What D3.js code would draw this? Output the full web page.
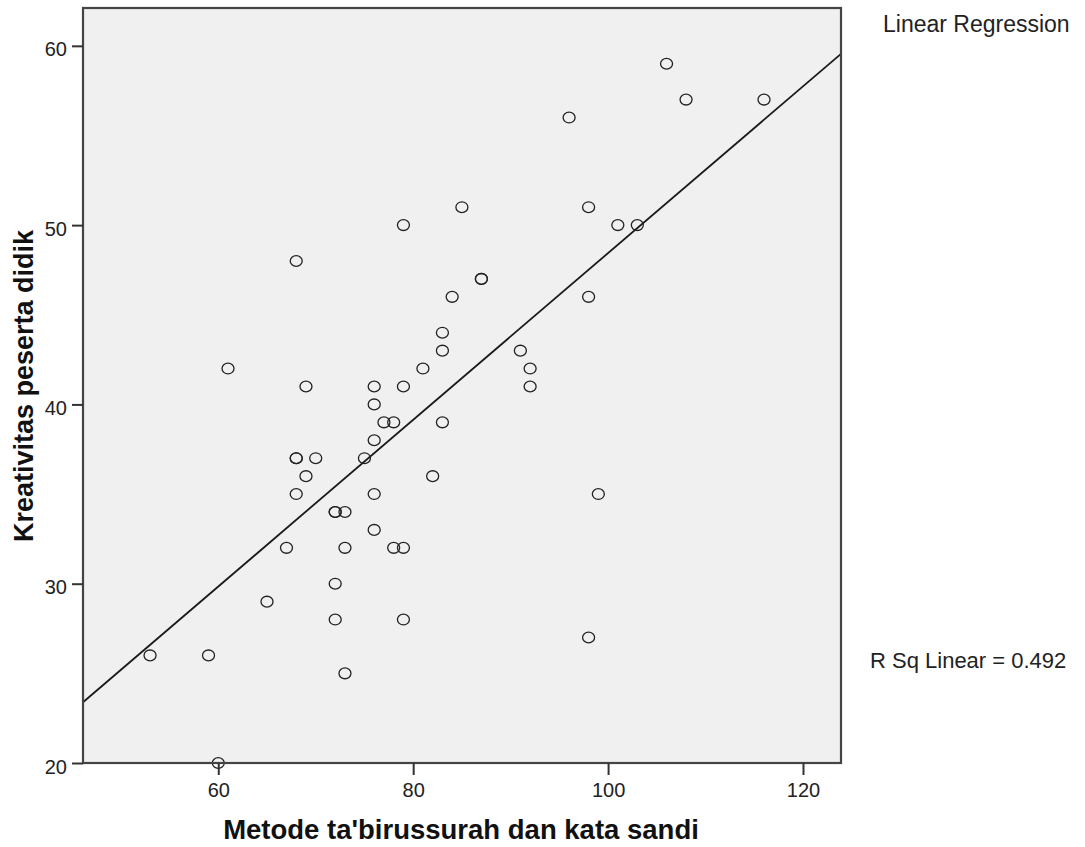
<!DOCTYPE html>
<html>
<head>
<meta charset="utf-8">
<script src="https://cdn.jsdelivr.net/npm/d3@7"></script>
<style>
  html, body { margin: 0; padding: 0; background: #fff; }
  svg { display: block; }
</style>
</head>
<body>
<svg id="chart" width="1085" height="847"></svg>
<script>
// Data
const metode = [53, 59, 60, 61, 65, 67, 68, 68, 68, 68, 69, 69, 70, 72, 72, 73, 72, 72, 73, 73,
  75, 76, 76, 76, 76, 76, 77, 78, 78, 79, 79, 79, 79, 81, 82, 83, 83, 83, 84, 85,
  87, 87, 91, 92, 92, 96, 98, 98, 98, 99, 101, 103, 106, 108, 116];
const kreativitas = [26, 26, 20, 42, 29, 32, 48, 37, 37, 35, 41, 36, 37, 34, 34, 34, 30, 28, 32, 25,
  37, 41, 40, 38, 35, 33, 39, 39, 32, 32, 28, 41, 50, 42, 36, 44, 43, 39, 46, 51,
  47, 47, 43, 42, 41, 56, 51, 46, 27, 35, 50, 50, 59, 57, 57];
const xTicks = [60, 80, 100, 120];
const yTicks = [20, 30, 40, 50, 60];
const xTitle = "Metode ta'birussurah dan kata sandi";
const yTitle = "Kreativitas peserta didik";
const legendTitle = "Linear Regression";
const rSqLabel = "R Sq Linear = 0.492";

(function () {
const svg = d3.select("#chart");
const pL = 83, pR = 841, pT = 8, pB = 763;
const sans = "Liberation Sans, Arial, Helvetica, sans-serif";

const x = d3.scaleLinear().domain([46.12, 123.9]).range([pL, pR]);
const y = d3.scaleLinear().domain([20, 62.11]).range([pB, pT]);

// plot background
svg.append("rect").attr("x", pL).attr("y", pT)
  .attr("width", pR - pL).attr("height", pB - pT)
  .attr("fill", "#f0f0f0");

// regression line (least squares from data)
const mx = d3.mean(metode), my = d3.mean(kreativitas);
let sxy = 0, sxx = 0;
metode.forEach((v, i) => { sxy += (v - mx) * (kreativitas[i] - my); sxx += (v - mx) * (v - mx); });
const slope = sxy / sxx, intercept = my - slope * mx;
const [x0, x1] = x.domain();
svg.append("clipPath").attr("id", "clip").append("rect")
  .attr("x", pL).attr("y", pT).attr("width", pR - pL).attr("height", pB - pT);
svg.append("line")
  .attr("clip-path", "url(#clip)")
  .attr("x1", x(x0)).attr("y1", y(intercept + slope * x0))
  .attr("x2", x(x1)).attr("y2", y(intercept + slope * x1))
  .attr("stroke", "#1a1a1a").attr("stroke-width", 1.8);

// points
const pts = metode.map((v, i) => ({ x: v, y: kreativitas[i] }));
svg.append("g").selectAll("ellipse").data(pts).join("ellipse")
  .attr("cx", d => x(d.x)).attr("cy", d => y(d.y))
  .attr("rx", 6).attr("ry", 5.4)
  .attr("fill", "none").attr("stroke", "#222").attr("stroke-width", 1.3);

// frame
svg.append("rect").attr("x", pL).attr("y", pT)
  .attr("width", pR - pL).attr("height", pB - pT)
  .attr("fill", "none").attr("stroke", "#444").attr("stroke-width", 2.2);

// axes
const xAxis = d3.axisBottom(x).tickValues(xTicks).tickSize(12).tickPadding(8).tickFormat(d3.format("d"));
const gx = svg.append("g").attr("transform", `translate(0,${pB})`).call(xAxis);
gx.select(".domain").remove();
gx.selectAll(".tick line").attr("stroke", "#333").attr("stroke-width", 2);
gx.selectAll("text").attr("font-family", sans)
  .attr("font-size", 20).attr("fill", "#222");

const yAxis = d3.axisLeft(y).tickValues(yTicks).tickSize(11).tickPadding(5).tickFormat(d3.format("d"));
const gy = svg.append("g").attr("transform", `translate(${pL},0)`).call(yAxis);
gy.select(".domain").remove();
gy.selectAll(".tick line").attr("stroke", "#333").attr("stroke-width", 2);
gy.selectAll("text").attr("font-family", sans)
  .attr("font-size", 20).attr("fill", "#222").attr("dy", "0.5em");

// titles
svg.append("text").attr("x", 461).attr("y", 839)
  .attr("text-anchor", "middle")
  .attr("font-family", sans)
  .attr("font-weight", "bold").attr("font-size", 27.5).attr("fill", "#111")
  .text(xTitle);

svg.append("text").attr("transform", `translate(33,386) rotate(-90)`)
  .attr("text-anchor", "middle")
  .attr("font-family", sans)
  .attr("font-weight", "bold").attr("font-size", 27).attr("fill", "#111")
  .text(yTitle);

svg.append("text").attr("x", 883).attr("y", 32)
  .attr("font-family", sans)
  .attr("font-size", 23).attr("fill", "#222")
  .text(legendTitle);

svg.append("text").attr("x", 870).attr("y", 668)
  .attr("font-family", sans)
  .attr("font-size", 22).attr("fill", "#222")
  .text(rSqLabel);
})();
</script>
</body>
</html>
